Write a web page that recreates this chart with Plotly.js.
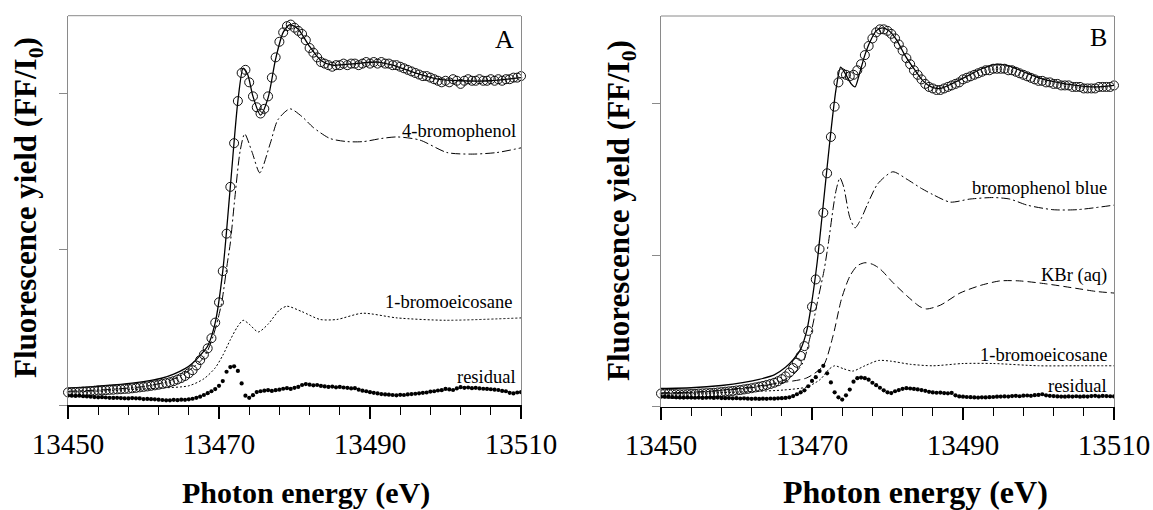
<!DOCTYPE html>
<html>
<head>
<meta charset="utf-8">
<script src="https://cdn.plot.ly/plotly-3.0.1.min.js"></script>
<style>html,body{margin:0;padding:0;background:#fff;}#chart{width:1153px;height:510px;}</style>
</head>
<body>
<div id="chart"></div>
<script>
// ---------- DATA ----------
var energyStart = 13450;   // first energy of the sampled (circle / residual) series, eV
var energyStep = 0.5;      // sampling step of the sampled series, eV
var xTickLabels = ["13450", "13470", "13490", "13510"];

// Panel A – experimental (open circles)
var expA = [0.083,0.084,0.085,0.086,0.088,0.089,0.091,0.093,0.095,0.096,
0.097,0.099,0.100,0.102,0.103,0.105,0.106,0.109,0.112,0.115,
0.118,0.121,0.125,0.128,0.132,0.137,0.142,0.148,0.155,0.165,
0.175,0.188,0.205,0.225,0.255,0.29,0.325,0.365,0.43,0.53,
0.66,0.86,1.10,1.40,1.68,1.95,2.13,2.15,2.07,1.98,
1.91,1.87,1.90,1.98,2.10,2.23,2.33,2.39,2.43,2.44,
2.42,2.40,2.38,2.34,2.29,2.26,2.23,2.20,2.19,2.18,
2.17,2.18,2.18,2.19,2.18,2.19,2.19,2.18,2.19,2.20,
2.19,2.20,2.19,2.20,2.19,2.19,2.18,2.18,2.17,2.16,
2.15,2.14,2.13,2.12,2.11,2.11,2.10,2.09,2.08,2.07,
2.08,2.07,2.09,2.08,2.06,2.08,2.09,2.08,2.08,2.09,
2.08,2.08,2.09,2.08,2.09,2.08,2.09,2.09,2.10,2.10,2.11];
// Panel A – residual (filled dots)
var resA = [0.064,0.062,0.060,0.062,0.058,0.057,0.055,0.053,0.051,0.052,
0.050,0.048,0.047,0.048,0.046,0.045,0.044,0.046,0.045,0.044,
0.040,0.041,0.039,0.038,0.036,0.034,0.032,0.032,0.035,0.033,
0.036,0.035,0.038,0.042,0.048,0.055,0.066,0.078,0.090,0.104,
0.125,0.155,0.215,0.245,0.250,0.220,0.140,0.062,0.048,0.065,
0.085,0.090,0.094,0.097,0.092,0.097,0.100,0.106,0.110,0.105,
0.112,0.118,0.130,0.136,0.132,0.128,0.130,0.124,0.121,0.118,
0.120,0.115,0.118,0.114,0.112,0.108,0.110,0.100,0.094,0.090,
0.084,0.080,0.076,0.072,0.070,0.068,0.066,0.064,0.067,0.066,
0.070,0.072,0.074,0.077,0.080,0.082,0.088,0.090,0.095,0.097,
0.105,0.102,0.098,0.108,0.116,0.112,0.114,0.110,0.112,0.108,
0.106,0.105,0.103,0.100,0.098,0.092,0.090,0.080,0.076,0.082,0.084];
// Panel A – fit (solid line)
var fitAE = [13450,13453,13456,13459,13461,13462.5,13464,13465.5,13466.5,13467.5,13468.5,13469.5,13470.5,13471.5,13472.5,13473.2,13473.8,13474.5,13475.5,13476.5,13477.5,13478.5,13479.4,13480.5,13482,13483.5,13485,13488,13491,13493,13496,13499,13502,13506,13510];
var fitA  = [0.11,0.118,0.13,0.145,0.16,0.175,0.20,0.235,0.27,0.32,0.38,0.53,0.86,1.40,1.95,2.16,2.12,1.98,1.86,1.97,2.22,2.39,2.44,2.41,2.30,2.21,2.18,2.19,2.20,2.18,2.13,2.09,2.08,2.08,2.10];
// Panel A – 4-bromophenol component (dash-dot)
var bpAE = [13450,13455,13460,13463,13465,13466.5,13467.5,13468.4,13469.2,13469.9,13470.4,13471.1,13471.5,13472.1,13472.8,13473.4,13474.4,13475.4,13476.8,13477.8,13479.4,13481,13482.5,13484.7,13487,13489.1,13491.5,13493.6,13496.6,13500.2,13503.6,13506.8,13510];
var bpA  = [0.09,0.10,0.12,0.15,0.19,0.24,0.28,0.34,0.44,0.56,0.67,0.91,1.04,1.33,1.63,1.74,1.62,1.49,1.68,1.83,1.90,1.85,1.78,1.71,1.69,1.69,1.71,1.72,1.70,1.62,1.61,1.62,1.65];
// Panel A – 1-bromoeicosane component (dotted)
var beAE = [13450,13456,13462,13466,13468,13469.5,13470.5,13471.5,13472.4,13473.2,13474,13475.2,13476.5,13478,13479,13481,13483.4,13485.6,13489,13493.6,13500,13510];
var beA  = [0.085,0.095,0.11,0.125,0.17,0.24,0.32,0.42,0.50,0.545,0.52,0.47,0.52,0.61,0.635,0.60,0.55,0.55,0.59,0.56,0.545,0.56];

// Panel B – experimental (open circles)
var expB = [0.087,0.086,0.085,0.084,0.083,0.082,0.082,0.083,0.084,0.085,
0.087,0.088,0.089,0.090,0.092,0.094,0.096,0.099,0.101,0.104,
0.107,0.110,0.114,0.118,0.122,0.127,0.132,0.137,0.143,0.150,
0.158,0.168,0.182,0.200,0.225,0.255,0.29,0.335,0.40,0.50,
0.66,0.84,1.04,1.28,1.54,1.78,1.98,2.14,2.20,2.19,
2.18,2.19,2.22,2.26,2.32,2.38,2.43,2.47,2.49,2.49,
2.48,2.46,2.43,2.39,2.35,2.30,2.26,2.22,2.19,2.16,
2.13,2.11,2.10,2.09,2.09,2.10,2.11,2.12,2.13,2.14,
2.16,2.17,2.18,2.19,2.20,2.21,2.22,2.22,2.23,2.23,
2.23,2.23,2.22,2.22,2.21,2.20,2.19,2.18,2.17,2.16,
2.15,2.15,2.14,2.14,2.13,2.13,2.12,2.12,2.12,2.11,
2.11,2.11,2.10,2.10,2.10,2.10,2.11,2.11,2.11,2.11,2.12];
// Panel B – residual (filled dots)
var resB = [0.068,0.067,0.066,0.064,0.062,0.061,0.060,0.061,0.060,0.059,
0.060,0.058,0.059,0.060,0.058,0.060,0.057,0.056,0.057,0.055,
0.056,0.054,0.055,0.053,0.052,0.053,0.051,0.053,0.052,0.054,
0.053,0.055,0.056,0.058,0.062,0.070,0.082,0.095,0.108,0.135,
0.170,0.195,0.235,0.270,0.220,0.160,0.095,0.062,0.047,0.075,
0.113,0.165,0.188,0.192,0.188,0.178,0.158,0.142,0.125,0.108,
0.095,0.090,0.102,0.110,0.118,0.122,0.120,0.117,0.114,0.110,
0.105,0.098,0.094,0.092,0.093,0.090,0.088,0.091,0.075,0.068,
0.066,0.064,0.063,0.061,0.060,0.062,0.061,0.063,0.064,0.066,
0.067,0.068,0.067,0.070,0.072,0.069,0.073,0.074,0.072,0.076,
0.078,0.082,0.075,0.072,0.070,0.068,0.067,0.066,0.068,0.067,
0.069,0.066,0.068,0.067,0.070,0.072,0.068,0.071,0.070,0.069,0.068];
// Panel B – fit (solid line)
var fitBE = [13450,13454,13458,13461,13463,13465,13466.5,13467.5,13468.5,13469.3,13470,13470.7,13471.3,13472,13472.6,13473.2,13473.8,13474.5,13475.2,13475.7,13476.3,13477,13477.7,13478.5,13479.3,13480.2,13481.2,13482.3,13483.5,13484.7,13485.8,13487,13488.5,13490.5,13492.5,13494.5,13496,13498,13500,13502.5,13505,13507.5,13510];
var fitB  = [0.12,0.125,0.14,0.16,0.18,0.21,0.26,0.31,0.38,0.50,0.70,0.96,1.24,1.58,1.86,2.10,2.24,2.19,2.13,2.11,2.20,2.32,2.41,2.48,2.50,2.48,2.42,2.32,2.23,2.15,2.11,2.10,2.13,2.18,2.23,2.26,2.25,2.21,2.17,2.14,2.12,2.11,2.12];
// Panel B – bromophenol blue component (dash-dot)
var bpbBE = [13450,13456,13461,13464,13466,13467.5,13468.8,13469.8,13470.8,13471.6,13472.2,13472.8,13473.2,13473.7,13474.2,13475,13475.7,13476.5,13477.3,13478.7,13480.7,13482.6,13484.5,13486,13488.3,13490.9,13494,13496.2,13498.5,13501.9,13505.1,13510];
var bpbB  = [0.09,0.10,0.12,0.14,0.17,0.21,0.29,0.47,0.71,0.90,1.09,1.31,1.43,1.51,1.45,1.25,1.18,1.24,1.33,1.47,1.55,1.50,1.44,1.40,1.35,1.37,1.38,1.37,1.33,1.30,1.30,1.33];
// Panel B – KBr (aq) component (dashed)
var kbrBE = [13450,13456,13461.8,13466.2,13469.3,13471.5,13472.8,13473.9,13475,13476,13477,13478,13479,13480.7,13482.6,13484.3,13485.2,13487,13489.6,13492.3,13494.9,13497.5,13501.1,13505.1,13507.7,13510];
var kbrB  = [0.09,0.10,0.13,0.16,0.19,0.27,0.47,0.71,0.86,0.93,0.95,0.94,0.91,0.82,0.73,0.66,0.645,0.67,0.75,0.80,0.83,0.83,0.81,0.78,0.76,0.75];
// Panel B – 1-bromoeicosane component (dotted)
var beBE = [13450,13456,13462,13466.2,13469.3,13471.1,13472.2,13473,13474.2,13475.4,13477,13478.8,13480.5,13483,13486,13490,13494,13500,13505,13510];
var beB  = [0.085,0.09,0.10,0.11,0.13,0.18,0.245,0.27,0.25,0.235,0.27,0.305,0.30,0.28,0.27,0.285,0.285,0.27,0.27,0.27];

// ---------- STYLE / LAYOUT ----------
var W = 1153, H = 510;
function px(x){ return x / W; }
function py(y){ return 1 - y / H; }
var FONT = 'Liberation Serif, Times New Roman, serif';

function circles(y, xa, ya){
  return {type:'scatter', mode:'markers', x0:energyStart, dx:energyStep, y:y, xaxis:xa, yaxis:ya,
    cliponaxis:false, marker:{symbol:'circle-open', size:9, color:'#111', line:{width:1, color:'#111'}}, hoverinfo:'skip'};
}
function dots(y, xa, ya){
  return {type:'scatter', mode:'markers', x0:energyStart, dx:energyStep, y:y, xaxis:xa, yaxis:ya,
    marker:{symbol:'circle', size:4.2, color:'#000'}, hoverinfo:'skip'};
}
function line(x, y, xa, ya, dash, width){
  return {type:'scatter', mode:'lines', x:x, y:y, xaxis:xa, yaxis:ya,
    line:{color:'#000', width:width||1, dash:dash, shape:'spline', smoothing:0.7}, hoverinfo:'skip'};
}

var data = [
  line(bpAE, bpA, 'x', 'y', '9px,3px,2px,3px', 1),
  line(beAE, beA, 'x', 'y', '2px,2px', 1),
  line(fitAE, fitA, 'x', 'y', 'solid', 1.3),
  circles(expA, 'x', 'y'),
  dots(resA, 'x', 'y'),
  line(bpbBE, bpbB, 'x2', 'y2', '9px,3px,2px,3px', 1),
  line(kbrBE, kbrB, 'x2', 'y2', '8px,4px', 1),
  line(beBE, beB, 'x2', 'y2', '2px,2px', 1),
  line(fitBE, fitB, 'x2', 'y2', 'solid', 1.3),
  circles(expB, 'x2', 'y2'),
  dots(resB, 'x2', 'y2')
];

function xaxis(dom, anchor){
  return {domain:dom, anchor:anchor, range:[13450, 13510], tickmode:'array',
    tickvals:xTickLabels.map(Number), ticktext:xTickLabels,
    ticks:'outside', ticklen:12, tickwidth:1.5, tickcolor:'#000',
    minor:{dtick:4, tick0:13450, ticks:'outside', ticklen:8, tickwidth:1.3, tickcolor:'#000', showgrid:false},
    showline:true, linecolor:'#000', linewidth:1.5, showgrid:false, zeroline:false,
    tickfont:{family:FONT, size:29, color:'#000'}, fixedrange:true};
}
function yaxis(dom, anchor, top){
  return {domain:dom, anchor:anchor, range:[0, top], tickmode:'array', tickvals:[0,1,2],
    showticklabels:false, ticks:'outside', ticklen:8, tickwidth:1.3, tickcolor:'#8a8a8a',
    showline:true, linecolor:'#8a8a8a', linewidth:1, mirror:true, showgrid:false, zeroline:false, fixedrange:true};
}

var labFont = {family:FONT, size:18.5, color:'#000'};
function lab(text, xr, yc){ return {text:text, xref:'paper', yref:'paper', x:px(xr), y:py(yc), xanchor:'right', yanchor:'middle', showarrow:false, font:labFont}; }

var layout = {
  width:W, height:H, margin:{l:0, r:0, t:0, b:0},
  paper_bgcolor:'#fff', plot_bgcolor:'#fff', showlegend:false,
  font:{family:FONT, color:'#000'},
  xaxis: xaxis([px(68), px(521)], 'y'),
  yaxis: yaxis([py(405.3), py(15.7)], 'x', 2.497),
  xaxis2: xaxis([px(661), px(1114)], 'y2'),
  yaxis2: yaxis([py(406.7), py(16)], 'x2', 2.578),
  shapes:[
    {type:'line', xref:'x domain', yref:'y domain', x0:0, x1:1, y0:1, y1:1, line:{color:'#8a8a8a', width:1}},
    {type:'line', xref:'x2 domain', yref:'y2 domain', x0:0, x1:1, y0:1, y1:1, line:{color:'#8a8a8a', width:1}}
  ],
  annotations:[
    {text:'A', xref:'paper', yref:'paper', x:px(504), y:py(40), xanchor:'center', yanchor:'middle', showarrow:false, font:{family:FONT, size:26, color:'#000'}},
    lab('4-bromophenol', 518, 131),
    lab('1-bromoeicosane', 514, 302),
    lab('residual', 518, 377),
    {text:'B', xref:'paper', yref:'paper', x:px(1098), y:py(38), xanchor:'center', yanchor:'middle', showarrow:false, font:{family:FONT, size:26, color:'#000'}},
    lab('bromophenol blue', 1109, 188),
    lab('KBr (aq)', 1109, 275),
    lab('1-bromoeicosane', 1109, 355),
    lab('residual', 1109, 386),
    {text:'<b>Photon energy (eV)</b>', xref:'paper', yref:'paper', x:px(306), y:py(493), xanchor:'center', yanchor:'middle', showarrow:false, font:{family:FONT, size:30, color:'#000'}},
    {text:'<b>Photon energy (eV)</b>', xref:'paper', yref:'paper', x:px(915), y:py(492), xanchor:'center', yanchor:'middle', showarrow:false, font:{family:FONT, size:32, color:'#000'}},
    {text:'<b>Fluorescence yield (FF/I<sub>0</sub>)</b>', xref:'paper', yref:'paper', x:px(28), y:py(208), xanchor:'center', yanchor:'middle', textangle:-90, showarrow:false, font:{family:FONT, size:31, color:'#000'}},
    {text:'<b>Fluorescence yield (FF/I<sub>0</sub>)</b>', xref:'paper', yref:'paper', x:px(621), y:py(211), xanchor:'center', yanchor:'middle', textangle:-90, showarrow:false, font:{family:FONT, size:31, color:'#000'}}
  ]
};

Plotly.newPlot('chart', data, layout, {displayModeBar:false, staticPlot:true});
</script>
</body>
</html>
